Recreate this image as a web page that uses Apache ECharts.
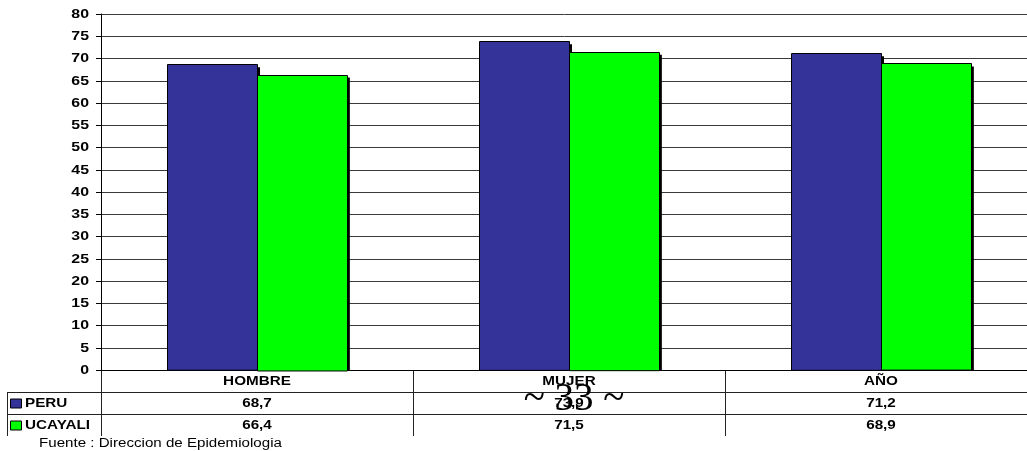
<!DOCTYPE html>
<html>
<head>
<meta charset="utf-8">
<script src="https://cdn.jsdelivr.net/npm/echarts@6/dist/echarts.min.js"></script>
<style>
html,body{margin:0;padding:0;background:#fff;}
#c{width:1027px;height:451px;}
</style>
</head>
<body>
<div id="c"></div>
<script>
const categories = ['HOMBRE', 'MUJER', 'AÑO'];
const seriesNames = ['PERU', 'UCAYALI'];
const peru = [68.7, 73.9, 71.2];
const ucayali = [66.4, 71.5, 68.9];
const yTicks = [0, 5, 10, 15, 20, 25, 30, 35, 40, 45, 50, 55, 60, 65, 70, 75, 80];
const sourceNote = 'Fuente : Direccion de Epidemiologia';
const pageMark = '~ 33 ~';

const FONT = '"Liberation Sans", Arial, sans-serif';
const colors = ['#333399', '#00ff00'];
const chart = echarts.init(document.getElementById('c'), null, {renderer: 'canvas'});

const gridLeft = 101, gridTop = 14, gridWidth = 936, gridHeight = 356;
const barFrac = 0.288;

function renderBar(sIdx) {
  return function (params, api) {
    const idx = api.value(0), val = api.value(1);
    const base = api.coord([idx, 0]);
    const top = api.coord([idx, val]);
    const band = api.size([1, 0])[0];
    const w = band * barFrac;
    const x = sIdx === 0 ? base[0] - w : base[0];
    const h = base[1] - top[1];
    return {
      type: 'group',
      children: [
        {type: 'rect', shape: {x: x + 3, y: top[1] + 3, width: w, height: h - 3}, style: {fill: '#000'}},
        {type: 'rect', shape: {x: Math.round(x) + 0.5, y: Math.round(top[1]) + 0.5, width: Math.round(w), height: h},
          style: {fill: colors[sIdx], stroke: '#000', lineWidth: 1}}
      ]
    };
  };
}

chart.setOption({
  animation: false,
  backgroundColor: '#fff',
  grid: {left: gridLeft, top: gridTop, width: gridWidth, height: gridHeight, containLabel: false, outerBoundsMode: 'none'},
  xAxis: {
    type: 'category', data: categories,
    axisLine: {show: true, lineStyle: {color: '#000', width: 1}},
    axisTick: {show: false},
    axisLabel: {show: false}
  },
  yAxis: {
    type: 'value', min: yTicks[0], max: yTicks[yTicks.length - 1], interval: yTicks[1] - yTicks[0],
    axisLine: {show: true, lineStyle: {color: '#000', width: 1}},
    axisTick: {show: true, length: 5, lineStyle: {color: '#000'}},
    axisLabel: {show: false},
    splitLine: {show: true, lineStyle: {color: '#3a3a3a', width: 1}}
  },
  series: [
    {name: seriesNames[0], type: 'custom', data: peru.map((v, i) => [i, v]), renderItem: renderBar(0), z: 2},
    {name: seriesNames[1], type: 'custom', data: ucayali.map((v, i) => [i, v]), renderItem: renderBar(1), z: 3}
  ]
});

const fmt = v => v.toFixed(1).replace('.', ',');
const y0 = gridTop + gridHeight;
const rowH = 22;
const rows = [peru, ucayali];
const lineC = '#222';
const g = [];
const line = (x1, y1, x2, y2) => g.push({type: 'line', shape: {x1, y1, x2, y2}, style: {stroke: lineC, lineWidth: 1}, silent: true});
const txt = (x, y, text, font, align, sx) => g.push({type: 'text', x, y, scaleX: sx, scaleY: 1,
  style: {text, fill: '#000', font, textAlign: align, textVerticalAlign: 'middle'}, silent: true});

const cx = categories.map((c, i) => chart.convertToPixel({xAxisIndex: 0}, i));
const band = cx.length > 1 ? cx[1] - cx[0] : gridWidth;

yTicks.forEach(v => {
  const py = chart.convertToPixel({yAxisIndex: 0}, v);
  txt(89, py + 0.5, String(v), 'bold 12.5px ' + FONT, 'right', 1.27);
});

for (let r = 1; r <= rows.length; r++) line(7, y0 + rowH * r + 0.5, 1027, y0 + rowH * r + 0.5);
line(7.5, y0 + rowH, 7.5, y0 + rowH * (rows.length + 1));
cx.forEach(c => {
  const x = Math.round(c - band / 2) + 0.5;
  line(x, y0, x, y0 + rowH * (rows.length + 1));
});
categories.forEach((c, i) => {
  txt(cx[i], y0 + rowH / 2 + 1, c, 'bold 12.5px ' + FONT, 'center', 1.22);
});
rows.forEach((arr, r) => {
  const cy = y0 + rowH * (r + 1) + rowH / 2 + 1;
  g.push({type: 'rect', shape: {x: 10.5, y: cy - 5, width: 11, height: 9},
    style: {fill: colors[r], stroke: '#000', lineWidth: 1}});
  txt(25, cy, seriesNames[r], 'bold 12.5px ' + FONT, 'left', 1.22);
  arr.forEach((v, i) => {
    txt(cx[i], cy, fmt(v), 'bold 12.5px ' + FONT, 'center', 1.22);
  });
});
txt(39, 444, sourceNote, '12px ' + FONT, 'left', 1.26);
g.push({type: 'text', x: 574, y: 400,
  style: {text: pageMark, fill: '#000', font: '39px "Liberation Serif", "Times New Roman", serif', textAlign: 'center', textVerticalAlign: 'middle'}});

chart.setOption({graphic: {elements: g}});
</script>
</body>
</html>
